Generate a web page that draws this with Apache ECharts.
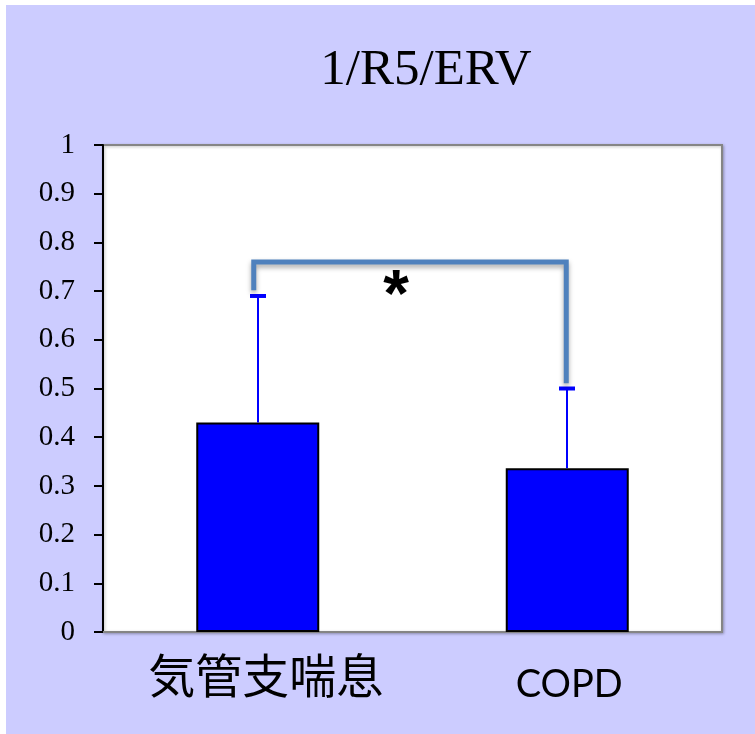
<!DOCTYPE html>
<html>
<head>
<meta charset="utf-8">
<script src="https://cdn.jsdelivr.net/npm/echarts@6/dist/echarts.min.js"></script>
<style>
  html, body { margin: 0; padding: 0; background: #ffffff; }
  #chart { position: absolute; left: 6px; top: 5px; width: 749px; height: 729px; background: #ccccff; }
</style>
</head>
<body>
<div id="chart"></div>
<script>
// Groups and measured values
const categories = ['気管支喘息', 'COPD'];
const means = [0.43, 0.336];
const upperErrors = [0.69, 0.50];
// Significance bracket: [from group, to group, bracket height, left leg end, right leg end]
const bracket = [[0, 1, 0.76, 0.702, 0.511]];
const bracketLabel = '*';
const yTicks = { min: 0, max: 1, interval: 0.1 };

const chart = echarts.init(document.getElementById('chart'));

const option = {
  animation: false,
  title: {
    text: '1/R5/ERV',
    left: 415,
    top: 35,
    textAlign: 'center',
    textStyle: { fontFamily: 'Liberation Serif', fontSize: 51, fontWeight: 'normal', color: '#000' }
  },
  grid: {
    left: 97, right: 33, top: 140, bottom: 102,
    show: true,
    backgroundColor: '#ffffff',
    borderColor: '#858585',
    borderWidth: 2,
    shadowColor: 'rgba(0,0,0,0.25)',
    shadowBlur: 3,
    shadowOffsetX: 1,
    shadowOffsetY: 1
  },
  xAxis: {
    type: 'category',
    data: categories,
    axisLine: { lineStyle: { color: '#858585', width: 2 } },
    axisTick: { show: false },
    axisLabel: {
      margin: 20,
      formatter: v => v === 'COPD' ? '{en|' + v + '}' : '{jp|' + v + '}',
      rich: {
        jp: { fontFamily: 'Noto Sans CJK JP', fontSize: 47, fontWeight: 'normal', color: '#000', padding: [0, 0, 0, 16] },
        en: { fontFamily: 'Lato', fontSize: 38, color: '#000', padding: [14, 0, 0, 4] }
      }
    }
  },
  yAxis: {
    type: 'value',
    min: yTicks.min,
    max: yTicks.max,
    interval: yTicks.interval,
    axisLine: { show: true, lineStyle: { color: '#000', width: 2 } },
    axisTick: { show: true, length: 9, lineStyle: { color: '#000', width: 2 } },
    splitLine: { show: false },
    axisLabel: {
      margin: 28,
      fontFamily: 'Liberation Serif',
      fontSize: 29,
      color: '#000'
    }
  },
  series: [
    {
      type: 'bar',
      data: means,
      barWidth: 123,
      itemStyle: { color: '#0000ff', borderColor: '#000', borderWidth: 2 },
      z: 2
    },
    {
      // error bars: upward whisker with a short cap
      type: 'custom',
      data: means.map((m, i) => [i, m, upperErrors[i]]),
      renderItem: (params, api) => {
        const base = api.coord([api.value(0), api.value(1)]);
        const top = api.coord([api.value(0), api.value(2)]);
        const x = Math.round(top[0]);
        return {
          type: 'group',
          children: [
            { type: 'line', shape: { x1: x, y1: base[1], x2: x, y2: top[1] },
              style: { stroke: '#0000ff', lineWidth: 2 } },
            { type: 'line', shape: { x1: x - 8, y1: top[1], x2: x + 8, y2: top[1] },
              style: { stroke: '#0000ff', lineWidth: 4 } }
          ]
        };
      },
      z: 3
    },
    {
      // significance bracket between the groups
      type: 'custom',
      data: bracket,
      renderItem: (params, api) => {
        const a = api.coord([api.value(0), api.value(2)]);
        const b = api.coord([api.value(1), api.value(2)]);
        const aEnd = api.coord([api.value(0), api.value(3)]);
        const bEnd = api.coord([api.value(1), api.value(4)]);
        const xa = a[0] - 4, xb = b[0] - 1;
        return {
          type: 'group',
          children: [
            { type: 'polyline',
              shape: { points: [[xa, aEnd[1]], [xa, a[1]], [xb, b[1]], [xb, bEnd[1]]] },
              style: { stroke: '#4f81bd', lineWidth: 5, fill: null,
                       shadowColor: 'rgba(0,0,0,0.35)', shadowBlur: 5, shadowOffsetY: 3 } },
            { type: 'text',
              style: { text: bracketLabel, x: (xa + xb) / 2 - 14, y: a[1] + 36,
                       align: 'center', verticalAlign: 'middle',
                       font: 'bold 66px "Liberation Sans"', fill: '#000' } }
          ]
        };
      },
      z: 4
    }
  ]
};

chart.setOption(option);
</script>
</body>
</html>
